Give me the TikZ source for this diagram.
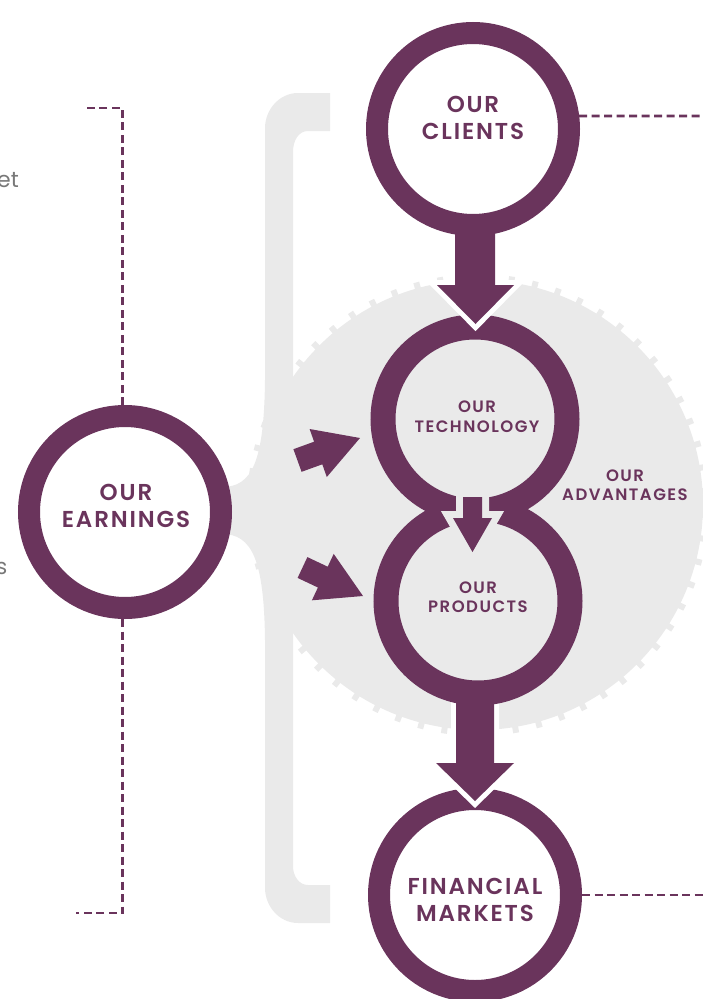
\documentclass[tikz,border=0pt]{standalone}
\usepackage{fontspec}
\setmainfont{Poppins}
\newfontfamily\lblfont[LetterSpace=8]{Poppins SemiBold}
\newfontfamily\smlfont[LetterSpace=9]{Poppins SemiBold}
\usetikzlibrary{calc}
\definecolor{plum}{RGB}{106,52,92}
\definecolor{gearc}{RGB}{234,234,234}
\definecolor{fragc}{RGB}{120,120,120}
\begin{document}
\begin{tikzpicture}[x=1pt,y=-1pt,
  ring/.style={circle, draw=plum, fill=white, line width=22pt, minimum size=192pt, inner sep=0pt},
  gring/.style={circle, draw=plum, fill=gearc, line width=25pt, minimum size=184pt, inner sep=0pt},
  bigtxt/.style={font=\lblfont\fontsize{23}{27}\selectfont, text=plum, align=center, inner sep=0pt},
  smalltxt/.style={font=\smlfont\fontsize{16.5}{19.5}\selectfont, text=plum, align=center, inner sep=0pt},
  fragtxt/.style={font=\fontsize{22}{26}\selectfont, text=fragc, inner sep=0pt, anchor=east},
  dashline/.style={draw=plum, line width=2.6pt, dash pattern=on 8pt off 4.5pt},
  whitearrow/.style={fill=plum, preaction={draw=white, line width=10pt, line join=miter}},
  greyarrow/.style={fill=plum, preaction={draw=gearc, line width=14pt, line join=miter}},
  diagarrow/.style={fill=plum},
  bracket/.style={fill=gearc},
]
\useasboundingbox (0,0) rectangle (703,999);
% gear
\coordinate (G) at (478,505);
\fill[gearc] (G) circle (225pt);
\foreach \k in {0,...,59}{
  \fill[gearc, rotate around={{3.5+6*\k}:(G)}] ($(G)+(219,-3)$) rectangle ($(G)+(231,3)$);
}
% bracket
\fill[bracket] (330,93) -- (298,93) .. controls (279,93) and (265,110) .. (265,128)
  -- (265,380) .. controls (264,462) and (252,487) .. (222,487)
  -- (222,534) .. controls (252,534) and (264,560) .. (265,640)
  -- (265,888) .. controls (265,906) and (279,923) .. (298,923)
  -- (330,923) -- (330,885) -- (308,885) .. controls (299,885) and (293,876) .. (293,866)
  -- (293,152) .. controls (293,140) and (299,131) .. (308,131) -- (330,131) -- cycle;
% fragments
\node[fragtxt] (frag1) at (19,180) {et};
\node[fragtxt] (frag2) at (7.5,568) {s};
% earnings
\node[ring] (earnings) at (125,512) {};
\node[bigtxt] (earningsT) at (126,505.5) {OUR\\EARNINGS};
% financial markets
\node[ring] (financial) at (475,895) {};
\node[bigtxt] (financialT) at (475,899.5) {FINANCIAL\\MARKETS};
% arrow products -> financial
\path[whitearrow] (456,690) -- (494,690) -- (494,763) -- (514,763) -- (475,801) -- (436,763) -- (456,763) -- cycle;
% technology and products
\node[gring] (tech) at (475,419) {};
\node[gring] (products) at (478,601) {};
\node[smalltxt] (techT) at (477,416.5) {OUR\\TECHNOLOGY};
\node[smalltxt] (productsT) at (478,597) {OUR\\PRODUCTS};
\node[smalltxt] (advT) at (625,485) {OUR\\ADVANTAGES};
% small arrow tech -> products
\path[greyarrow] (463,497) -- (482,497) -- (482,518) -- (492,518) -- (472.5,552) -- (453,518) -- (463,518) -- cycle;
% arrow clients -> tech
\path[whitearrow] (455,222) -- (495,222) -- (495,285) -- (514,285) -- (475.5,324) -- (437,285) -- (455,285) -- cycle;
% clients
\node[ring] (clients) at (473,129) {};
\node[bigtxt] (clientsT) at (473,117.5) {OUR\\CLIENTS};
% diagonal arrows
\path[diagarrow] (293.4,449.2) -- (314.1,441.7) -- (309.6,429.0) -- (360,438) -- (326.8,477.0) -- (322.3,464.3) -- (301.6,471.8) -- cycle;
\path[diagarrow] (307.4,557.1) -- (327.7,566.7) -- (333.7,553.9) -- (363,596) -- (311.9,600.3) -- (317.9,587.5) -- (297.6,577.9) -- cycle;
% dashed connectors
\coordinate (tlend) at (83,108);
\coordinate (blend) at (76,913);
\coordinate (trend) at (703,116);
\coordinate (brend) at (703,895);
\draw[dashline] ([xshift=-2.5pt]earnings.north) |- (tlend);
\draw[dashline] ([xshift=-2.5pt]earnings.south) |- (blend);
\draw[dashline] (clients.7) -- (trend);
\draw[dashline] (financial.east) -- (brend);
\end{tikzpicture}
\end{document}
